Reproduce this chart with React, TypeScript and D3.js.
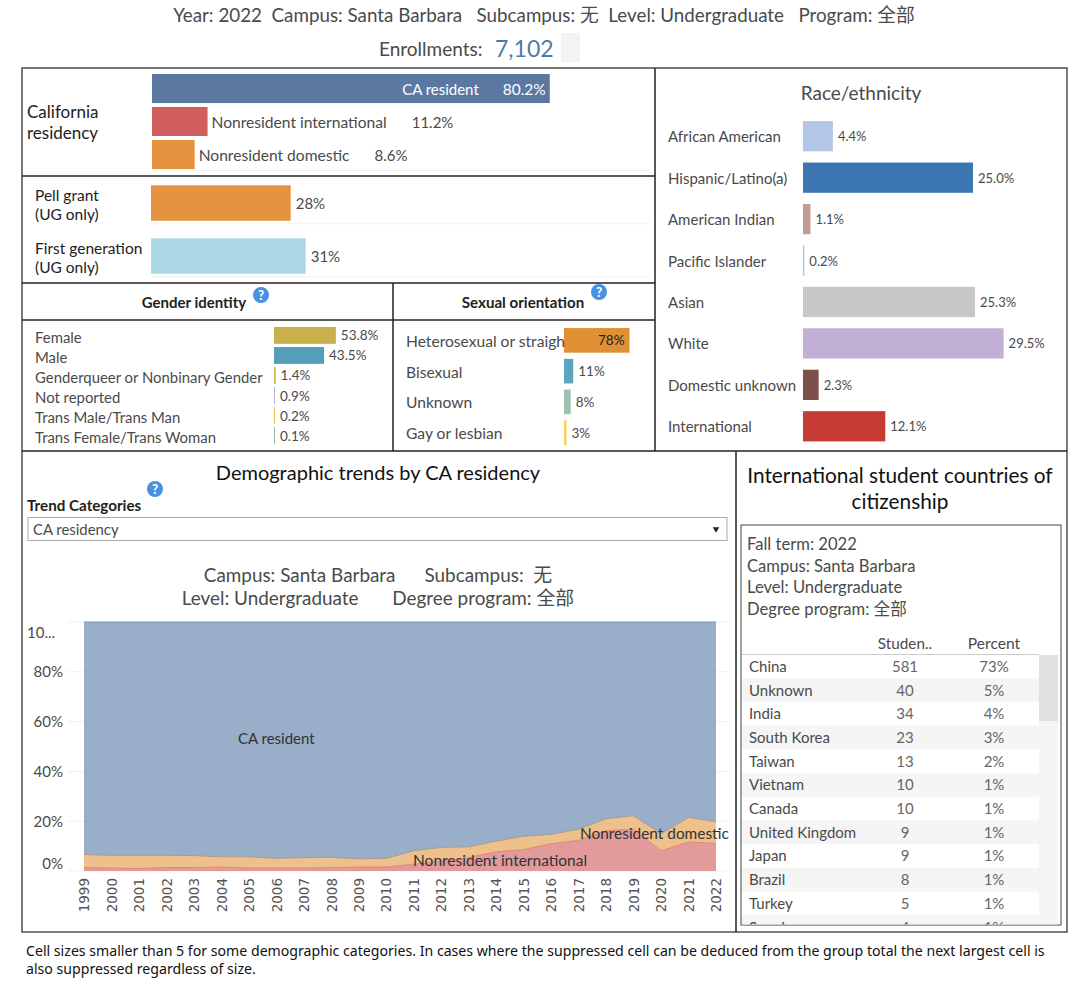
import React, { useRef, useEffect } from 'react';
import * as d3 from 'd3';

const FONT = 'Lato, "Noto Sans CJK SC", sans-serif';

const residencyLabels = ['CA resident', 'Nonresident international', 'Nonresident domestic'];
const residencyValues = [80.2, 11.2, 8.6];

const supportLabels = ['Pell grant', 'First generation'];
const supportValues = [28, 31];

const genderLabels = ['Female', 'Male', 'Genderqueer or Nonbinary Gender', 'Not reported', 'Trans Male/Trans Man', 'Trans Female/Trans Woman'];
const genderValues = [53.8, 43.5, 1.4, 0.9, 0.2, 0.1];

const orientationLabels = ['Heterosexual or straigh', 'Bisexual', 'Unknown', 'Gay or lesbian'];
const orientationValues = [78, 11, 8, 3];

const raceLabels = ['African American', 'Hispanic/Latino(a)', 'American Indian', 'Pacific Islander', 'Asian', 'White', 'Domestic unknown', 'International'];
const raceValues = [4.4, 25.0, 1.1, 0.2, 25.3, 29.5, 2.3, 12.1];

const years = d3.range(1999, 2023);
const trendInternational = [1.4, 1.2, 1.0, 1.4, 1.4, 1.6, 1.2, 1.2, 1.2, 1.4, 1.6, 1.6, 2.7, 4.0, 5.4, 7.7, 8.6, 11.0, 12.3, 16.2, 16.8, 8.1, 11.7, 11.1];
const trendDomestic = [5.2, 5.1, 5.3, 4.9, 4.8, 4.1, 4.5, 3.9, 4.2, 4.1, 3.3, 3.5, 5.4, 5.5, 4.3, 4.3, 5.4, 3.7, 4.5, 4.8, 5.4, 6.8, 9.8, 8.7];
const trendResident = [93.4, 93.7, 93.7, 93.7, 93.8, 94.3, 94.3, 94.9, 94.6, 94.5, 95.1, 94.9, 91.9, 90.5, 90.3, 88.0, 86.0, 85.3, 83.2, 79.0, 77.8, 85.1, 78.5, 80.2];
const trendTicks = [0, 20, 40, 60, 80, 100];
const trendTickLabels = ['0%', '20%', '40%', '60%', '80%', '10...'];

const countries = ['China', 'Unknown', 'India', 'South Korea', 'Taiwan', 'Vietnam', 'Canada', 'United Kingdom', 'Japan', 'Brazil', 'Turkey', 'Sweden'];
const countryStudents = [581, 40, 34, 23, 13, 10, 10, 9, 9, 8, 5, 4];
const countryPercent = [73, 5, 4, 3, 2, 1, 1, 1, 1, 1, 1, 1];

type Sel = d3.Selection<any, any, any, any>;

const TEXT = '#4a4a4a';
const DARK = '#222';

function label(root: Sel, x: number, y: number, text: string, size = 15, color = TEXT, anchor = 'start', weight = 400) {
  return root.append('text')
    .attr('x', x)
    .attr('y', y)
    .attr('dominant-baseline', 'central')
    .attr('font-size', size)
    .attr('font-weight', weight)
    .attr('fill', color)
    .attr('text-anchor', anchor)
    .style('white-space', 'pre')
    .text(text);
}

function helpIcon(root: Sel, x: number, y: number) {
  root.append('circle').attr('cx', x).attr('cy', y).attr('r', 8).attr('fill', '#4a90e2');
  label(root, x, y, '?', 13.5, '#fff', 'middle', 700);
}

function drawFrames(svg: Sel) {
  const lines = [
    [22, 176, 655, 176], [22, 283, 655, 283], [22, 320, 655, 320], [22, 451, 1067, 451],
    [655, 68, 655, 451], [393, 283, 393, 451], [736, 451, 736, 932],
  ];
  svg.append('rect').attr('x', 22).attr('y', 68).attr('width', 1045).attr('height', 864)
    .attr('fill', 'none').attr('stroke', '#333').attr('stroke-width', 1.3);
  svg.append('g').selectAll('line').data(lines).join('line')
    .attr('x1', d => d[0]).attr('y1', d => d[1]).attr('x2', d => d[2]).attr('y2', d => d[3])
    .attr('stroke', '#222').attr('stroke-width', 1.5);
}

function drawHeader(svg: Sel) {
  label(svg, 544, 14, 'Year: 2022  Campus: Santa Barbara   Subcampus: 无  Level: Undergraduate   Program: 全部', 18.8, TEXT, 'middle');
  label(svg, 379, 48, 'Enrollments:', 19);
  label(svg, 495, 48, '7,102', 23, '#4e79a7');
  svg.append('rect').attr('x', 561).attr('y', 33).attr('width', 19).attr('height', 29).attr('fill', '#f3f3f3');
}

function drawResidency(svg: Sel) {
  const x = d3.scaleLinear().domain([0, 100]).range([152, 648]);
  const y = d3.scaleBand().domain(residencyLabels).range([72, 171]).paddingInner(0.12).paddingOuter(0.06);
  const color = d3.scaleOrdinal<string>().domain(residencyLabels).range(['#5b78a3', '#d25f5f', '#e69340']);

  svg.append('line').attr('x1', 152).attr('x2', 650).attr('y1', 170).attr('y2', 170).attr('stroke', '#f0f0f0');
  svg.append('g').selectAll('rect').data(residencyLabels).join('rect')
    .attr('x', x(0))
    .attr('y', d => y(d)!)
    .attr('width', (d, i) => x(residencyValues[i]) - x(0))
    .attr('height', y.bandwidth())
    .attr('fill', d => color(d));

  residencyLabels.forEach((name, i) => {
    const cy = y(name)! + y.bandwidth() / 2;
    const end = x(residencyValues[i]);
    if (i === 0) {
      label(svg, end - 4, cy, `${residencyValues[i].toFixed(1)}%`, 15.5, '#fff', 'end');
      label(svg, end - 71, cy, name, 15, '#fff', 'end');
    } else {
      const t = label(svg, end + 4, cy, name, 15.6);
      const w = (t.node() as SVGTextElement).getComputedTextLength();
      label(svg, end + 4 + w + 25, cy, `${residencyValues[i].toFixed(1)}%`, 15);
    }
  });
  label(svg, 27, 111, 'California', 17, DARK);
  label(svg, 27, 132, 'residency', 17, DARK);
}

function drawSupport(svg: Sel) {
  const x = d3.scaleLinear().domain([0, 100]).range([151, 650]);
  const y = d3.scaleBand().domain(supportLabels).range([176, 283]).paddingInner(0.33).paddingOuter(0.175);
  const color = d3.scaleOrdinal<string>().domain(supportLabels).range(['#e69340', '#add8e6']);

  y.domain().forEach(d => {
    svg.append('line').attr('x1', 151).attr('x2', 650)
      .attr('y1', y(d)! + y.bandwidth() + 3).attr('y2', y(d)! + y.bandwidth() + 3).attr('stroke', '#f2f2f2');
  });
  svg.append('g').selectAll('rect').data(supportLabels).join('rect')
    .attr('x', x(0))
    .attr('y', d => y(d)!)
    .attr('width', (d, i) => x(supportValues[i]) - x(0))
    .attr('height', y.bandwidth())
    .attr('fill', d => color(d));

  supportLabels.forEach((name, i) => {
    const cy = y(name)! + y.bandwidth() / 2;
    label(svg, x(supportValues[i]) + 5, cy, `${supportValues[i]}%`, 15);
    label(svg, 35, cy - 8, name, 15.5, DARK);
    label(svg, 35, cy + 11, '(UG only)', 15.5, DARK);
  });
}

function drawGender(svg: Sel) {
  const x = d3.scaleLinear().domain([0, 100]).range([274, 389]);
  const y = d3.scaleBand().domain(genderLabels).range([327, 444]).paddingInner(0.16).paddingOuter(0);
  const color = d3.scaleOrdinal<string>().domain(genderLabels)
    .range(['#c9b04a', '#559fb8', '#c9b04a', '#b9b0d8', '#e6c05a', '#8fc4a8']);

  label(svg, 194, 302, 'Gender identity', 15, DARK, 'middle', 700);
  helpIcon(svg, 261, 295);

  svg.append('g').selectAll('rect').data(genderLabels).join('rect')
    .attr('x', x(0))
    .attr('y', d => y(d)!)
    .attr('width', (d, i) => Math.max(x(genderValues[i]) - x(0), 1))
    .attr('height', y.bandwidth())
    .attr('fill', d => color(d));

  genderLabels.forEach((name, i) => {
    const cy = y(name)! + y.bandwidth() / 2;
    label(svg, 35, cy + 1.5, name, 14.9);
    label(svg, Math.max(x(genderValues[i]), 275) + 5, cy, `${genderValues[i].toFixed(1)}%`, 13.5);
  });
}

function drawOrientation(svg: Sel) {
  const x = d3.scaleLinear().domain([0, 100]).range([564, 648]);
  const y = d3.scaleBand().domain(orientationLabels).range([325, 448]).paddingInner(0.2).paddingOuter(0.1);
  const color = d3.scaleOrdinal<string>().domain(orientationLabels).range(['#e18f35', '#5ba6bc', '#9cc3ad', '#f1d25a']);

  label(svg, 523, 302, 'Sexual orientation', 15.1, DARK, 'middle', 700);
  helpIcon(svg, 599, 292);

  svg.append('g').selectAll('rect').data(orientationLabels).join('rect')
    .attr('x', x(0))
    .attr('y', d => y(d)!)
    .attr('width', (d, i) => x(orientationValues[i]) - x(0))
    .attr('height', y.bandwidth())
    .attr('fill', d => color(d));

  orientationLabels.forEach((name, i) => {
    const cy = y(name)! + y.bandwidth() / 2;
    label(svg, 406, cy + 0.5, name, 15.6);
    if (i === 0) label(svg, x(orientationValues[i]) - 5, cy, `${orientationValues[i]}%`, 13.5, DARK, 'end');
    else label(svg, x(orientationValues[i]) + 5, cy, `${orientationValues[i]}%`, 13.5);
  });
}

function drawRace(svg: Sel) {
  const x = d3.scaleLinear().domain([0, 35]).range([803, 1041]);
  const y = d3.scaleBand().domain(raceLabels).range([115.5, 447]).paddingInner(0.27).paddingOuter(0.135);
  const color = d3.scaleOrdinal<string>().domain(raceLabels)
    .range(['#b3c6e7', '#3c76b0', '#c49c94', '#a9c4e0', '#c7c7c7', '#c0b0d5', '#7d4f4a', '#c63c34']);

  label(svg, 861, 92, 'Race/ethnicity', 19, TEXT, 'middle');

  svg.append('g').selectAll('rect').data(raceLabels).join('rect')
    .attr('x', x(0))
    .attr('y', d => y(d)!)
    .attr('width', (d, i) => x(raceValues[i]) - x(0))
    .attr('height', y.bandwidth())
    .attr('fill', d => color(d));

  raceLabels.forEach((name, i) => {
    const cy = y(name)! + y.bandwidth() / 2;
    label(svg, 668, cy, name, 15);
    label(svg, x(raceValues[i]) + 5, cy, `${raceValues[i].toFixed(1)}%`, 13);
  });
}

function drawTrend(svg: Sel) {
  const x = d3.scalePoint<number>().domain(years).range([84, 716]);
  const y = d3.scaleLinear().domain([0, 100]).range([871, 622]);

  label(svg, 378, 472, 'Demographic trends by CA residency', 20, '#111', 'middle');
  label(svg, 27, 505, 'Trend Categories', 15.2, DARK, 'start', 700);
  helpIcon(svg, 155, 489);

  svg.append('rect').attr('x', 28).attr('y', 517.5).attr('width', 699).attr('height', 23)
    .attr('fill', '#fff').attr('stroke', '#aaa');
  label(svg, 33, 529, 'CA residency', 14.9);
  svg.append('path').attr('d', d3.symbol(d3.symbolTriangle, 18)()!)
    .attr('transform', 'translate(716,529) rotate(180)').attr('fill', '#222');

  label(svg, 378, 574, 'Campus: Santa Barbara      Subcampus:  无', 18.9, TEXT, 'middle');
  label(svg, 378, 597, 'Level: Undergraduate       Degree program: 全部', 18.9, TEXT, 'middle');

  // 目盛り線
  svg.append('g').selectAll('line').data(trendTicks).join('line')
    .attr('x1', 68).attr('x2', 730)
    .attr('y1', d => y(d)).attr('y2', d => y(d))
    .attr('stroke', '#f0f0f0');

  const rows = years.map((year, i) => ({
    year,
    international: trendInternational[i],
    domestic: trendDomestic[i],
    resident: trendResident[i],
  }));
  const keys = ['international', 'domestic', 'resident'];
  const fill: Record<string, string> = { international: '#e39a9b', domestic: '#eec08c', resident: '#98aec9' };
  const edge: Record<string, string> = { international: '#e08a6a', domestic: '#a89a90', resident: '#7f97b8' };
  const stacked = d3.stack<any>().keys(keys)(rows);
  const area = d3.area<any>().x(d => x(d.data.year)!).y0(d => y(d[0])).y1(d => y(Math.min(d[1], 100)));
  const top = d3.line<any>().x(d => x(d.data.year)!).y(d => y(Math.min(d[1], 100)));

  svg.append('g').selectAll('path').data(stacked).join('path')
    .attr('d', d => area(d))
    .attr('fill', d => fill[d.key]);
  svg.append('g').selectAll('path').data(stacked).join('path')
    .attr('d', d => top(d))
    .attr('fill', 'none')
    .attr('stroke', d => edge[d.key])
    .attr('stroke-width', 1);

  label(svg, 238, 738, 'CA resident', 15, '#333');
  label(svg, 580, 833, 'Nonresident domestic', 15.4, '#333');
  label(svg, 413, 860, 'Nonresident international', 15.5, '#333');

  const yOffset = [-8, 0, 0, -1, -1, 10];
  trendTicks.forEach((tick, i) => {
    label(svg, tick === 100 ? 27 : 63, y(tick) + yOffset[i], trendTickLabels[i], 15, TEXT, tick === 100 ? 'start' : 'end');
  });

  const axis = d3.axisBottom(x).tickSize(0).tickPadding(0).tickFormat(d => `${d}`);
  const g = svg.append('g').attr('transform', 'translate(0,871)').call(axis);
  g.select('.domain').remove();
  g.selectAll('text')
    .attr('transform', 'rotate(-90)')
    .attr('x', -7)
    .attr('y', 0)
    .attr('dy', '0.35em')
    .attr('text-anchor', 'end')
    .attr('font-family', '"DejaVu Sans", sans-serif')
    .attr('font-size', 13.5)
    .attr('fill', '#555');
}

function drawCountries(svg: Sel) {
  const y = d3.scaleBand().domain(countries).range([654.5, 654.5 + 23.7 * countries.length]);

  label(svg, 900, 474, 'International student countries of', 20.8, '#111', 'middle');
  label(svg, 900, 500, 'citizenship', 20.8, '#111', 'middle');

  svg.append('rect').attr('x', 741).attr('y', 525).attr('width', 320).attr('height', 400)
    .attr('fill', '#fff').attr('stroke', '#444');
  ['Fall term: 2022', 'Campus: Santa Barbara', 'Level: Undergraduate', 'Degree program: 全部'].forEach((t, i) => {
    label(svg, 747, 544 + i * 21.5, t, 16.6);
  });

  label(svg, 905, 643, 'Studen..', 15.3, TEXT, 'middle');
  label(svg, 994, 643, 'Percent', 15.6, TEXT, 'middle');
  svg.append('line').attr('x1', 742).attr('x2', 1039).attr('y1', 654.5).attr('y2', 654.5).attr('stroke', '#ccc');

  svg.append('clipPath').attr('id', 'country-clip').append('rect')
    .attr('x', 742).attr('y', 655).attr('width', 318).attr('height', 269.5);
  const body = svg.append('g').attr('clip-path', 'url(#country-clip)');

  body.selectAll('rect.stripe').data(countries.filter((_, i) => i % 2 === 1)).join('rect')
    .attr('class', 'stripe')
    .attr('x', 742).attr('width', 297)
    .attr('y', d => y(d)!).attr('height', y.bandwidth())
    .attr('fill', '#f5f5f5');

  countries.forEach((name, i) => {
    const cy = y(name)! + y.bandwidth() / 2;
    label(body, 749, cy - 0.5, name, 15);
    label(body, 905, cy - 0.5, `${countryStudents[i]}`, 15, '#666', 'middle');
    label(body, 994, cy - 0.5, `${countryPercent[i]}%`, 15, '#666', 'middle');
  });

  body.append('rect').attr('x', 1039).attr('y', 655).attr('width', 19).attr('height', 270).attr('fill', '#f5f5f5');
  body.append('rect').attr('x', 1039).attr('y', 655).attr('width', 19).attr('height', 66).attr('fill', '#e0e0e0');
}

function drawFootnote(svg: Sel) {
  label(svg, 26, 950, 'Cell sizes smaller than 5 for some demographic categories. In cases where the suppressed cell can be deduced from the group total the next largest cell is', 14.13, '#111')
    .attr('font-family', '"Noto Sans", sans-serif');
  label(svg, 26, 968, 'also suppressed regardless of size.', 14.13, '#111')
    .attr('font-family', '"Noto Sans", sans-serif');
}

export default function App() {
  const ref = useRef<SVGSVGElement>(null);

  useEffect(() => {
    if (!ref.current) return;
    const svg = d3.select(ref.current);
    svg.selectAll('*').remove();
    drawHeader(svg);
    drawResidency(svg);
    drawSupport(svg);
    drawGender(svg);
    drawOrientation(svg);
    drawRace(svg);
    drawTrend(svg);
    drawCountries(svg);
    drawFrames(svg);
    drawFootnote(svg);
  }, []);

  return (
    <svg
      ref={ref}
      width={1080}
      height={984}
      style={{ position: 'absolute', left: 0, top: 0, background: '#fff', fontFamily: FONT }}
    />
  );
}
